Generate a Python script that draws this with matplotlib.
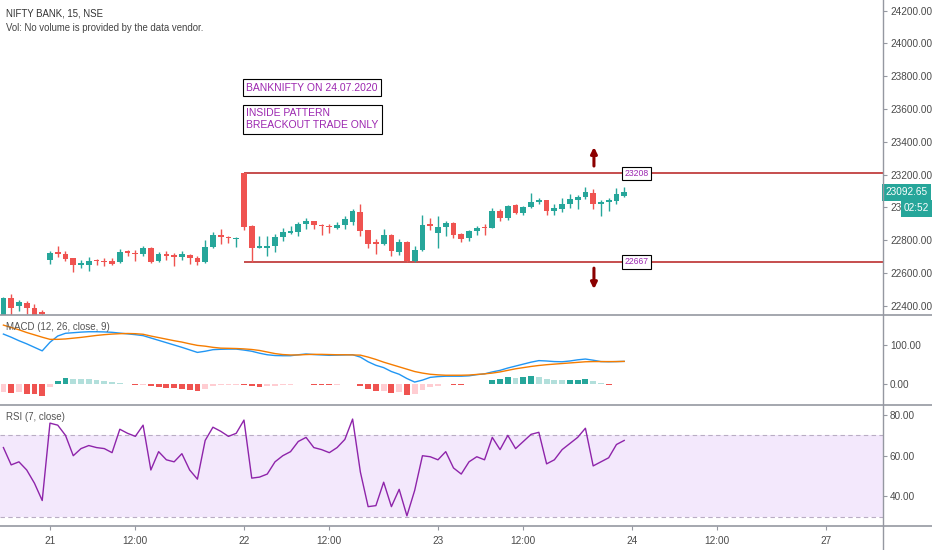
import matplotlib
matplotlib.use('Agg')
import matplotlib.pyplot as plt
import matplotlib.transforms as mtransforms
from matplotlib.lines import Line2D
import numpy as np
import pandas as pd

plt.rcParams['font.family'] = ['Liberation Sans', 'DejaVu Sans']

# ---------------- data ----------------
opens = [22320, 22449, 22400, 22414, 22388, 22364,
         22681, 22725, 22715, 22689, 22648, 22648, 22681, 22675, 22674, 22667,
         22735, 22722, 22713, 22750, 22672, 22718, 22707, 22694, 22712, 22690,
         22667, 22757, 22829, 22819, 22808,
         23208, 22886, 22752, 22754, 22766, 22819, 22842, 22851, 22900, 22916,
         22895, 22888, 22874, 22894, 22912, 22973, 22860, 22787, 22774, 22830,
         22729, 22790, 22672, 22739, 22896,
         22841, 22878, 22902, 22837, 22814, 22855, 22882, 22873, 22977, 22936,
         23014, 22967, 23004, 23034, 23044, 22979, 22988, 23020, 23044, 23060,
         23090, 23020, 23034, 23040, 23070]
highs = [22452, 22470, 22437, 22430, 22412, 22372,
         22735, 22762, 22732, 22692, 22677, 22698, 22685, 22693, 22690, 22745,
         22738, 22740, 22763, 22755, 22725, 22735, 22720, 22735, 22718, 22706,
         22800, 22847, 22868, 22823, 22817,
         23208, 22890, 22827, 22822, 22840, 22875, 22885, 22912, 22933, 22918,
         22900, 22896, 22910, 22950, 22990, 23018, 22864, 22807, 22865, 22835,
         22805, 22794, 22765, 22953, 22932,
         22950, 22918, 22910, 22842, 22860, 22887, 22900, 22995, 22990, 23015,
         23020, 23009, 23085, 23054, 23047, 23020, 23056, 23082, 23074, 23122,
         23110, 23044, 23055, 23116, 23122]
lows = [22300, 22330, 22365, 22348, 22310, 22320,
        22652, 22699, 22670, 22607, 22628, 22610, 22648, 22640, 22648, 22660,
        22704, 22672, 22705, 22660, 22665, 22676, 22640, 22676, 22652, 22648,
        22662, 22753, 22775, 22785, 22760,
        22862, 22667, 22750, 22705, 22729, 22797, 22838, 22827, 22870, 22870,
        22831, 22843, 22866, 22866, 22894, 22827, 22750, 22714, 22770, 22705,
        22710, 22667, 22667, 22733, 22862,
        22750, 22827, 22815, 22786, 22792, 22833, 22832, 22873, 22918, 22924,
        22961, 22955, 22998, 23020, 22951, 22952, 22973, 22998, 22988, 23051,
        22990, 22949, 22980, 23018, 23061]
closes = [22449, 22388, 22424, 22388, 22335, 22350,
          22724, 22713, 22682, 22648, 22659, 22674, 22673, 22667, 22654, 22730,
          22720, 22717, 22750, 22668, 22718, 22704, 22695, 22714, 22688, 22667,
          22758, 22829, 22817, 22811, 22815,
          22882, 22753, 22762, 22766, 22821, 22847, 22857, 22900, 22916, 22892,
          22887, 22878, 22894, 22930, 22977, 22857, 22775, 22778, 22830, 22735,
          22790, 22672, 22739, 22892, 22887,
          22877, 22906, 22831, 22806, 22855, 22875, 22872, 22977, 22936, 23006,
          22967, 23004, 23034, 23044, 22977, 22995, 23020, 23049, 23064, 23095,
          23020, 23032, 23046, 23081, 23092.65]

macd = [128, 120, 111, 103, 94, 85,
        107, 123, 130, 131.5, 133, 134, 134, 133.5, 132.5, 130.5, 128.5, 126.5,
        124, 118, 112, 106, 100, 94, 87.5, 81, 84, 88, 89, 89.5, 89.5,
        87, 84, 79, 75, 73, 72.5, 72.5, 75, 77, 75.5, 74.5, 73.5, 74, 74.5, 75,
        69, 57, 48, 42, 32, 25, 14, 5, 10, 17,
        19, 20, 20, 20, 21, 24, 26, 31, 35, 41, 46, 51, 56, 60, 59, 57.5, 57,
        59, 62, 64, 61, 57.5, 57, 57.5, 58]
signal = [151, 145, 139, 132, 126, 120,
          114.5, 114.5, 115.5, 117.5, 119.5, 122, 124.5, 126.5, 128, 129, 129.5,
          129, 127.5, 123, 119, 115, 111, 107.5, 103, 99, 97, 94, 92, 91.5, 91,
          90, 88.5, 86, 82, 78, 75.5, 74.5, 74.5, 75.5, 76, 76, 75.5, 75, 75,
          74.5, 74, 69, 63, 56, 50, 44, 38, 32, 28, 25,
          23.5, 22.5, 22.5, 22.5, 23, 24.5, 26, 28, 31, 35, 39, 42, 45, 47.5,
          49.5, 51, 52.5, 54, 55.5, 57, 57.5, 57.5, 57.5, 57.5, 58]
hist = [-20, -24, -20, -25.6, -26, -31,
        -7, 8.5, 14.5, 14, 13.5, 12, 9.4, 6.8, 4.3, 1.5, -1, -3, -2, -5, -7,
        -9, -11, -13.7, -15.4, -18, -14, -6, -3, -2, -1.5,
        -3, -5, -8, -6, -4, -2.5, -1.5, 1, 0.5, -1.5, -2, -2.5, -1.5, -0.5,
        0.5, -5, -12.8, -18, -17, -22, -19.7, -28, -25.6, -15.4, -8.5,
        -5, 0.5, -1.7, -2.5, -0.7, 0.5, 0.3, 10, 12.8, 17, 14.5, 17, 19.7, 19,
        13.7, 11, 10.5, 11, 11.5, 12.8, 7.7, 1.5, -2.5, -0.7, 0.5]
rsi = [64, 55.5, 57, 53, 46.5, 38,
       76, 75, 70, 60, 63.5, 65, 64, 63.5, 61.5, 73, 71, 69.5, 75, 53, 62, 58,
       57, 61, 53, 48.5, 67.5, 74, 72, 69.5, 71,
       77.5, 49, 49.5, 51, 57, 60, 62, 67, 69, 64, 63, 61.5, 64, 68, 78, 52,
       35, 35.5, 47, 35, 43.5, 30.5, 43, 60, 59.5,
       58, 62, 54, 51, 57, 59.5, 58, 69, 63, 70, 63.5, 67, 70.5, 71.5, 56, 58,
       63, 66, 69, 73.5, 55, 57, 59, 65.5, 67.5]

box_high = 23208
box_low = 22667
last_price = 23092.65
countdown = '02:52'

price_ticks = [22400, 22600, 22800, 23000, 23200, 23400, 23600, 23800, 24000, 24200]
macd_ticks = [0, 100]
rsi_ticks = [40, 60, 80]
tick_times = ['2020-07-21 09:15', '2020-07-21 12:00', '2020-07-22 09:15',
              '2020-07-22 12:00', '2020-07-23 09:15', '2020-07-23 12:00',
              '2020-07-24 09:15', '2020-07-24 12:00', '2020-07-27 09:15']
tick_labels = ['21', '12:00', '22', '12:00', '23', '12:00', '24', '12:00', '27']

# ---------------- bar timeline ----------------
def session(day):
    return pd.date_range(f'{day} 09:15', f'{day} 15:15', freq='15min')

timeline = session('2020-07-20')[-6:].append(
    [session(d) for d in ['2020-07-21', '2020-07-22', '2020-07-23',
                          '2020-07-24', '2020-07-27']])
n = len(closes)
x = np.arange(n)
tick_pos = [timeline.get_loc(pd.Timestamp(t)) for t in tick_times]
box_start = timeline.get_loc(pd.Timestamp('2020-07-22 09:15'))

# ---------------- figure ----------------
W, H = 932, 550
fig = plt.figure(figsize=(W / 100, H / 100), dpi=100)
fig.patch.set_facecolor('white')

def px_axes(x0, y0, x1, y1):
    return fig.add_axes([x0 / W, 1 - y1 / H, (x1 - x0) / W, (y1 - y0) / H])

ax_p = px_axes(0, 0, 883, 315)
ax_m = px_axes(0, 315, 883, 405)
ax_r = px_axes(0, 405, 883, 526)

XL = (-0.44, 113.35)
TXT = '#4a4a4a'
for ax in (ax_p, ax_m, ax_r):
    ax.set_xlim(*XL)
    for s in ax.spines.values():
        s.set_visible(False)
    ax.yaxis.tick_right()
    ax.tick_params(axis='y', direction='out', length=3, width=0.8, color='#9598a1',
                   labelsize=7.2, labelcolor=TXT, pad=2)
    ax.set_facecolor('white')
for ax in (ax_p, ax_m):
    ax.set_xticks([])

UP, DOWN = '#26a69a', '#ef5350'

# candles
o = np.array(opens); h = np.array(highs); l = np.array(lows); c = np.array(closes)
cols = np.where(c >= o, UP, DOWN)
ax_p.vlines(x, l, h, colors=cols, linewidth=1, zorder=3)
body_bottom = np.minimum(o, c)
body_h = np.maximum(np.abs(c - o), 5)
ax_p.bar(x, body_h, bottom=body_bottom, width=0.74, color=cols, linewidth=0, zorder=4)

ax_p.set_ylim(22343, 24265)
ax_p.set_yticks(price_ticks)
ax_p.set_yticklabels([f'{v:.2f}' for v in price_ticks])

LINE_RED = '#b71c1c'
ax_p.hlines([box_high, box_low], box_start, XL[1], colors=LINE_RED, linewidth=1.1, zorder=2)

PURPLE = '#9c27b0'
ax_p.text(box_start + 0.3, 23731, 'BANKNIFTY ON 24.07.2020', fontsize=7.5, color=PURPLE,
          va='center', ha='left', zorder=6,
          bbox=dict(boxstyle='square,pad=0.3', fc='white', ec='black', lw=0.8))
ax_p.text(box_start + 0.3, 23536, 'INSIDE PATTERN\nBREACKOUT TRADE ONLY', fontsize=7.5,
          color=PURPLE, va='center', ha='left', zorder=6, linespacing=1.25,
          bbox=dict(boxstyle='square,pad=0.3', fc='white', ec='black', lw=0.8))

label_x = 81.6
for v in (box_high, box_low):
    ax_p.text(label_x, v, f'{v}', fontsize=6.2, color=PURPLE, va='center', ha='center',
              zorder=6, bbox=dict(boxstyle='square,pad=0.25', fc='white', ec='black', lw=0.8))

arrow_x = 76.1
ARROW = '#8b0000'
ax_p.annotate('', xy=(arrow_x, 23368), xytext=(arrow_x, 23252),
              arrowprops=dict(arrowstyle='-|>', color=ARROW, lw=2.2, mutation_scale=9,
                              shrinkA=0, shrinkB=0), zorder=6)
ax_p.annotate('', xy=(arrow_x, 22501), xytext=(arrow_x, 22629),
              arrowprops=dict(arrowstyle='-|>', color=ARROW, lw=2.2, mutation_scale=9,
                              shrinkA=0, shrinkB=0), zorder=6)

trans = mtransforms.blended_transform_factory(ax_p.transAxes, ax_p.transData)
ax_p.text(1.003, last_price, f'{last_price:.2f}', transform=trans, fontsize=7.2,
          color='white', va='center', ha='left', zorder=10, clip_on=False,
          bbox=dict(boxstyle='square,pad=0.35', fc=UP, ec='none'))
ax_p.annotate(countdown, xy=(1.0, last_price), xycoords=trans, xytext=(21, -16),
              textcoords='offset pixels', fontsize=7.2, color='white', va='center',
              ha='left', zorder=11, annotation_clip=False,
              bbox=dict(boxstyle='square,pad=0.35', fc=UP, ec='none'))

# MACD
def hcol(i):
    v = hist[i]
    p = hist[i - 1] if i > 0 else None
    if v >= 0:
        return '#26a69a' if (p is None or v >= p) else '#b2dfdb'
    return '#ffcdd2' if (p is None or v > p) else '#ef5350'

ax_m.bar(x, hist, width=0.75, color=[hcol(i) for i in range(n)], linewidth=0, zorder=2)
ax_m.plot(x, macd, color='#2196f3', linewidth=1, zorder=3)
ax_m.plot(x, signal, color='#f57c00', linewidth=1, zorder=3)
ax_m.set_ylim(-53.8, 176.9)
ax_m.set_yticks(macd_ticks)
ax_m.set_yticklabels([f'{v:.2f}' for v in macd_ticks])

# RSI
ax_r.axhspan(30, 70, color='#f3e8fc', zorder=1, linewidth=0)
for lv in (30, 70):
    ax_r.axhline(lv, color='#b9adc4', linewidth=0.8, linestyle=(0, (4, 3)), zorder=2)
ax_r.plot(x, rsi, color='#8e24aa', linewidth=1, zorder=3)
ax_r.set_ylim(25.5, 84.9)
ax_r.set_yticks(rsi_ticks)
ax_r.set_yticklabels([f'{v:.2f}' for v in rsi_ticks])
ax_r.set_xticks(tick_pos)
ax_r.set_xticklabels(tick_labels)
ax_r.tick_params(axis='x', direction='out', length=3, width=0.8, color='#9598a1',
                 labelsize=7.2, labelcolor=TXT, pad=4)

# panel borders
SEP = '#9598a1'
for yy in (315, 405, 526):
    fig.add_artist(Line2D([0, 1], [1 - yy / H, 1 - yy / H], color=SEP, linewidth=1.2))
fig.add_artist(Line2D([883 / W, 883 / W], [0, 1], color=SEP, linewidth=1.0))

# header texts
fig.text(6 / W, 1 - 14 / H, 'NIFTY BANK, 15, NSE', fontsize=6.9, color='#333333', va='center')
fig.text(6 / W, 1 - 28 / H, 'Vol: No volume is provided by the data vendor.', fontsize=6.9,
         color='#444444', va='center')
fig.text(6 / W, 1 - 327 / H, 'MACD (12, 26, close, 9)', fontsize=7.0, color='#555555', va='center')
fig.text(6 / W, 1 - 417 / H, 'RSI (7, close)', fontsize=7.0, color='#555555', va='center')

fig.savefig('out.png', dpi=100, facecolor='white')
